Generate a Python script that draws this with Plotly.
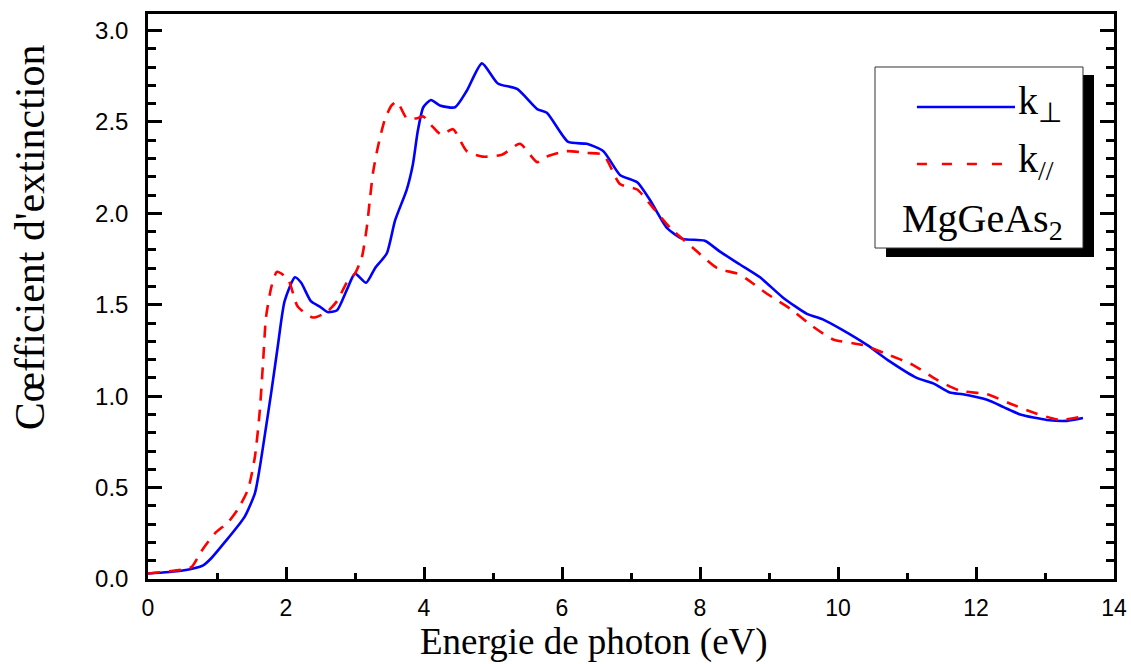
import plotly.graph_objects as go

# Photon energy (eV) and extinction coefficient for MgGeAs2
E_perp = [0, 0.48, 0.8, 0.92, 1.11, 1.40, 1.55, 1.62, 1.69, 1.79, 1.88, 1.98, 2.13, 2.22, 2.36,
          2.49, 2.6, 2.74, 2.88, 3.0, 3.16, 3.29, 3.46, 3.58, 3.75, 3.84, 3.91, 3.99, 4.10, 4.23,
          4.45, 4.62, 4.84, 5.07, 5.35, 5.64, 5.78, 6.09, 6.36, 6.6, 6.84, 7.09, 7.28, 7.52, 7.75,
          8.07, 8.29, 8.58, 8.87, 9.2, 9.55, 9.78, 10.05, 10.42, 10.75, 11.14, 11.38, 11.62, 11.81,
          12.16, 12.4, 12.64, 13.03, 13.32, 13.55]
k_perp = [0.03, 0.045, 0.075, 0.115, 0.20, 0.34, 0.47, 0.61, 0.78, 1.03, 1.27, 1.52, 1.65, 1.62, 1.52,
          1.49, 1.46, 1.47, 1.58, 1.67, 1.62, 1.70, 1.78, 1.96, 2.13, 2.27, 2.45, 2.58, 2.62, 2.59,
          2.58, 2.67, 2.82, 2.71, 2.68, 2.57, 2.55, 2.39, 2.38, 2.34, 2.21, 2.17, 2.07, 1.92, 1.86,
          1.85, 1.79, 1.72, 1.65, 1.54, 1.45, 1.42, 1.365, 1.28, 1.19, 1.10, 1.07, 1.02, 1.01,
          0.98, 0.94, 0.90, 0.87, 0.865, 0.88]

E_par = [0, 0.48, 0.63, 0.77, 0.97, 1.16, 1.30, 1.45, 1.55, 1.62, 1.67, 1.71, 1.79, 1.87, 2.03,
         2.17, 2.39, 2.59, 2.74, 2.88, 3.0, 3.10, 3.17, 3.22, 3.26, 3.33, 3.43, 3.53, 3.61, 3.75,
         3.90, 3.99, 4.11, 4.25, 4.42, 4.62, 4.85, 5.13, 5.39, 5.64, 5.78, 6.07, 6.36, 6.6, 6.84,
         7.09, 7.32, 7.57, 7.9, 8.25, 8.54, 8.68, 8.97, 9.3, 9.64, 9.93, 10.36, 10.71, 11.09, 11.43,
         11.77, 12.16, 12.49, 12.83, 13.22, 13.55]
k_par = [0.03, 0.05, 0.065, 0.15, 0.25, 0.31, 0.38, 0.49, 0.67, 0.92, 1.20, 1.43, 1.60, 1.68, 1.64,
         1.49, 1.43, 1.46, 1.52, 1.62, 1.67, 1.76, 1.92, 2.09, 2.22, 2.36, 2.51, 2.59, 2.61, 2.52,
         2.52, 2.53, 2.48, 2.43, 2.46, 2.34, 2.31, 2.32, 2.38, 2.28, 2.31, 2.34, 2.33, 2.32, 2.16,
         2.13, 2.03, 1.92, 1.81, 1.70, 1.67, 1.64, 1.56, 1.48, 1.38, 1.31, 1.28, 1.23, 1.17, 1.09,
         1.03, 1.01, 0.96, 0.91, 0.87, 0.89]

series_names = ["k<sub>⊥</sub>", "k<sub>//</sub>"]
material = "MgGeAs<sub>2</sub>"
x_title = "Energie de photon (eV)"
y_title = "Cœfficient d'extinction"

SERIF = "Liberation Serif, Times New Roman, serif"
SANS = "Liberation Sans, Arial, sans-serif"

fig = go.Figure()
fig.add_trace(go.Scatter(x=E_perp, y=k_perp, mode="lines", name=series_names[0],
                         line=dict(color="#0000FF", width=2.6, shape="spline", smoothing=0.6)))
fig.add_trace(go.Scatter(x=E_par, y=k_par, mode="lines", name=series_names[1],
                         line=dict(color="#FF0000", width=2.6, dash="12px,9px",
                                   shape="spline", smoothing=0.6)))

# legend box with drop shadow (paper coords)
fig.add_shape(type="rect", xref="paper", yref="paper", x0=0.764, x1=0.9793, y0=0.570, y1=0.892,
              fillcolor="black", line=dict(width=0), layer="above")
fig.add_shape(type="rect", xref="paper", yref="paper", x0=0.7526, x1=0.9679, y0=0.5858, y1=0.9062,
              fillcolor="white", line=dict(color="#333333", width=1), layer="above")
fig.add_shape(type="line", xref="paper", yref="paper", x0=0.796, x1=0.8975, y0=0.8354, y1=0.8354,
              line=dict(color="#0000FF", width=2.6), layer="above")
fig.add_shape(type="line", xref="paper", yref="paper", x0=0.796, x1=0.8975, y0=0.7345, y1=0.7345,
              line=dict(color="#FF0000", width=2.6, dash="10px,15px"), layer="above")

fig.add_annotation(xref="paper", yref="paper", x=0.8985, y=0.842, xanchor="left", yanchor="middle",
                   text=series_names[0], showarrow=False, font=dict(family=SERIF, size=40, color="black"))
fig.add_annotation(xref="paper", yref="paper", x=0.8985, y=0.740, xanchor="left", yanchor="middle",
                   text=series_names[1], showarrow=False, font=dict(family=SERIF, size=40, color="black"))
fig.add_annotation(xref="paper", yref="paper", x=0.864, y=0.634, xanchor="center", yanchor="middle",
                   text=material, showarrow=False, font=dict(family=SERIF, size=40, color="black"))

# axis titles
fig.add_annotation(xref="paper", yref="paper", x=0.4617, y=-0.1504, xanchor="center", yanchor="bottom",
                   text=x_title, showarrow=False, borderpad=0,
                   font=dict(family=SERIF, size=37, color="black"))
fig.add_annotation(xref="paper", yref="paper", x=-0.122, y=0.605, xanchor="center", yanchor="middle",
                   textangle=-90, text=y_title, showarrow=False,
                   font=dict(family=SERIF, size=42, color="black"))

fig.update_layout(
    width=1131, height=664,
    margin=dict(l=148, r=17, t=14, b=85, autoexpand=False),
    paper_bgcolor="white", plot_bgcolor="white",
    showlegend=False,
    font=dict(family=SANS, color="black"),
)
fig.update_xaxes(
    range=[0, 14], dtick=2, tick0=0, ticks="inside", ticklen=12, tickwidth=2.5, tickcolor="black",
    minor=dict(dtick=1, ticks="inside", ticklen=6, tickwidth=2.5, tickcolor="black"),
    showline=True, linecolor="black", linewidth=2.5, mirror=True, showgrid=False, zeroline=False,
    tickfont=dict(family=SANS, size=23, color="black"), ticklabelstandoff=7, automargin=False,
)
fig.update_yaxes(
    range=[0, 3.09], dtick=0.5, tick0=0, tickformat=".1f", ticks="inside", ticklen=14, tickwidth=2.5,
    tickcolor="black",
    minor=dict(dtick=0.1, ticks="inside", ticklen=8, tickwidth=2.5, tickcolor="black"),
    showline=True, linecolor="black", linewidth=2.5, mirror="allticks", showgrid=False, zeroline=False,
    tickfont=dict(family=SANS, size=24, color="black"), ticklabelstandoff=12, automargin=False,
)

fig.write_html("out.html")
